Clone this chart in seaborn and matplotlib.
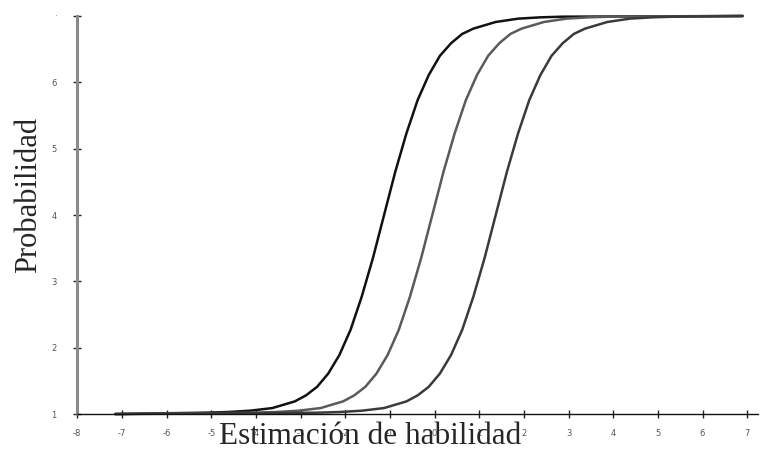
import pandas as pd
import numpy as np
import seaborn as sns
import matplotlib.pyplot as plt

# Werte (drei Itemkurven)
prob = [1.00, 1.02, 1.03, 1.05, 1.09, 1.19, 1.28, 1.41, 1.61, 1.89, 2.27, 2.77, 3.35, 4.00,
        4.65, 5.23, 5.73, 6.11, 6.40, 6.59, 6.73, 6.81, 6.91, 6.96, 6.98, 6.99, 7.00]
hab_1 = [-7.15, -5.13, -4.63, -4.13, -3.63, -3.13, -2.88, -2.63, -2.38, -2.13, -1.88, -1.63, -1.38, -1.13,
         -0.88, -0.63, -0.38, -0.13, 0.12, 0.37, 0.62, 0.87, 1.37, 1.87, 2.37, 2.87, 6.9]
hab_2 = [-7.15, -4.05, -3.55, -3.05, -2.55, -2.05, -1.80, -1.55, -1.30, -1.05, -0.80, -0.55, -0.30, -0.05,
         0.20, 0.45, 0.70, 0.95, 1.20, 1.45, 1.70, 1.95, 2.45, 2.95, 3.45, 3.95, 6.9]
hab_3 = [-7.15, -2.63, -2.13, -1.63, -1.13, -0.63, -0.38, -0.13, 0.12, 0.37, 0.62, 0.87, 1.12, 1.37,
         1.62, 1.87, 2.12, 2.37, 2.62, 2.87, 3.12, 3.37, 3.87, 4.37, 4.87, 5.37, 6.9]
items = ['Item 1', 'Item 2', 'Item 3']
farben = ['#111111', '#5a5a5a', '#3a3a3a']

x_ticks = [-8, -7, -6, -5, -4, -3, -2, -1, 0, 1, 2, 3, 4, 5, 6, 7]
x_labels = ['-8', '-7', '-6', '-5', '-4', '-3', '-2', '-1', '0', '1', '2', '3', '4', '5', '6', '7']
y_ticks = [1, 2, 3, 4, 5, 6, 7]
y_labels = ['1', '2', '3', '4', '5', '6', '·']

df = pd.concat([
    pd.DataFrame({'Habilidad': h, 'Probabilidad': prob, 'Item': it})
    for h, it in zip([hab_1, hab_2, hab_3], items)
], ignore_index=True)

sns.set_style('ticks')
plt.rcParams['font.family'] = ['DejaVu Sans']

fig = plt.figure(figsize=(7.61, 4.51), dpi=100)
ax = fig.add_axes([0.1015, 0.082, 0.895, 0.8825])

sns.lineplot(data=df, x='Habilidad', y='Probabilidad', hue='Item', palette=farben,
             sort=False, linewidth=1.8, legend=False, ax=ax)
for l in ax.lines:
    l.set_clip_on(False)

ax.set_xlim(-8, 7.25)
ax.set_ylim(1, 7)
ax.set_xticks(x_ticks)
ax.set_xticklabels(x_labels)
ax.set_yticks(y_ticks)
ax.set_yticklabels(y_labels)
ax.tick_params(direction='inout', length=6, width=1, labelsize=6, colors='#222222',
               labelcolor='#555555')
ax.tick_params(axis='y', pad=12)
ax.tick_params(axis='x', pad=8)

sns.despine(ax=ax)
ax.spines['left'].set_color('#8a8a8a')
ax.spines['left'].set_linewidth(2.2)
ax.spines['bottom'].set_color('#111111')
ax.spines['bottom'].set_linewidth(1.0)

# Achsentitel liegen wie im Original teils ueber den Tick-Beschriftungen
ax.set_xlabel('Estimación de habilidad', family='Liberation Serif', fontsize=22.5)
ax.set_ylabel('Probabilidad', family='Liberation Serif', fontsize=22)
ax.xaxis.set_label_coords(0.43, -0.056, transform=ax.transAxes)
ax.xaxis.label.set_va('center')
ax.yaxis.set_label_coords(-0.05, 0.55)

fig.savefig('out.png', dpi=100)
